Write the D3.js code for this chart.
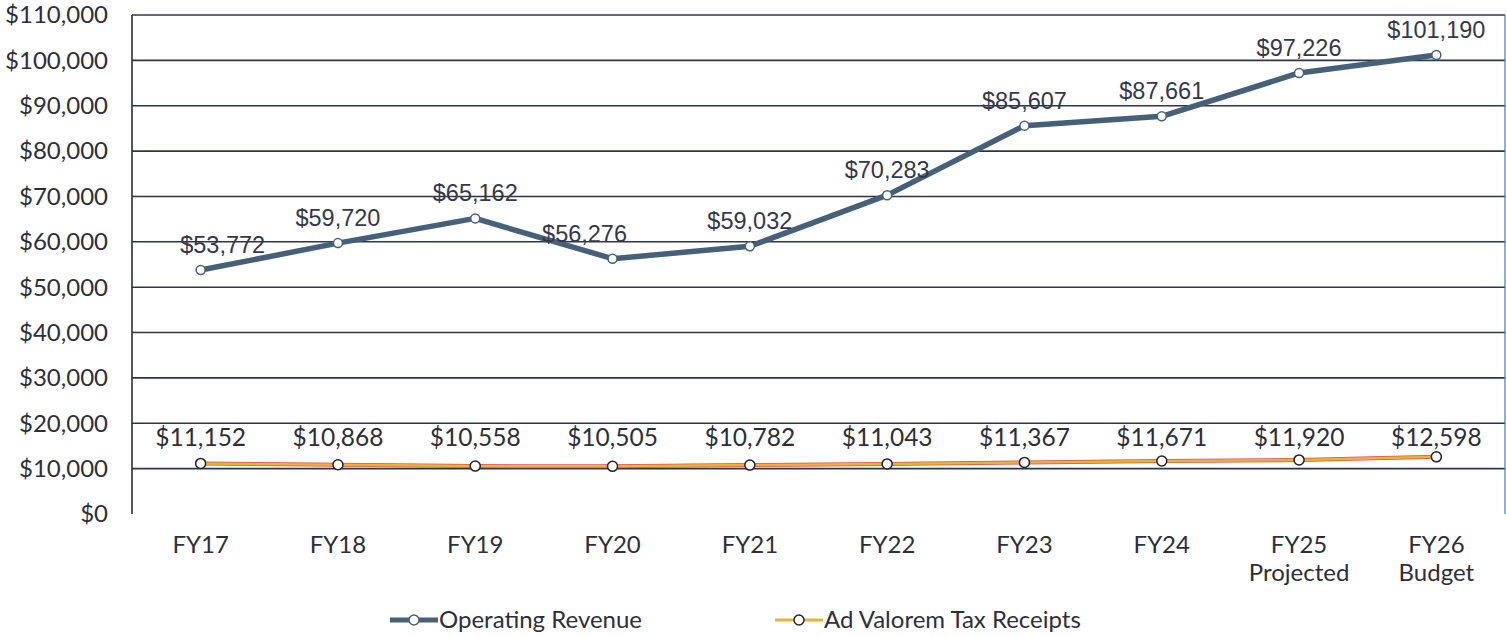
<!DOCTYPE html>
<html>
<head>
<meta charset="utf-8">
<script src="https://cdn.jsdelivr.net/npm/d3@7"></script>
<style>
  body { margin: 0; background: #fff; }
  svg { display: block; }
</style>
</head>
<body>
<div id="chart"></div>
<script>
// chart data
var years = ["FY17", "FY18", "FY19", "FY20", "FY21", "FY22", "FY23", "FY24", "FY25\nProjected", "FY26\nBudget"];
var operatingRevenue = [53772, 59720, 65162, 56276, 59032, 70283, 85607, 87661, 97226, 101190];
var adValorem = [11152, 10868, 10558, 10505, 10782, 11043, 11367, 11671, 11920, 12598];
var yTicks = [0, 10000, 20000, 30000, 40000, 50000, 60000, 70000, 80000, 90000, 100000, 110000];

var W = 1506, H = 637;
var margin = {top: 15, right: 1, bottom: 123, left: 132};
var width = W - margin.left - margin.right,
    height = H - margin.top - margin.bottom;

var svg = d3.select("#chart")
  .append("svg")
    .attr("width", W)
    .attr("height", H);

var g = svg.append("g")
  .attr("transform", "translate(" + margin.left + "," + margin.top + ")");

var x = d3.scaleBand()
  .domain(years)
  .range([0, width]);

var y = d3.scaleLinear()
  .domain([0, 110000])
  .range([height, 0]);

var fmt = d3.format("$,");
var axisFont = "Lato, 'Open Sans', sans-serif";
var textColor = "#2c2f3a";
var opColor = "#46607a";

// gridlines
g.selectAll(".grid")
  .data(yTicks.filter(function(d) { return d > 0; }))
  .enter()
  .append("line")
    .attr("x1", 0)
    .attr("x2", width)
    .attr("y1", function(d) { return y(d); })
    .attr("y2", function(d) { return y(d); })
    .attr("stroke", "#2b3448")
    .attr("stroke-width", 1.6);

// left axis line + right border
g.append("line")
  .attr("x1", 0).attr("x2", 0)
  .attr("y1", 0).attr("y2", height)
  .attr("stroke", "#2b2f3a")
  .attr("stroke-width", 1.6);
g.append("line")
  .attr("x1", width).attr("x2", width)
  .attr("y1", 0).attr("y2", height)
  .attr("stroke", "#3f7fb0")
  .attr("stroke-width", 1.2);

// y tick labels
g.selectAll(".ylab")
  .data(yTicks)
  .enter()
  .append("text")
    .attr("x", -24)
    .attr("y", function(d) { return y(d); })
    .attr("dy", "0.35em")
    .attr("text-anchor", "end")
    .style("font-family", axisFont)
    .style("font-size", "24px")
    .attr("fill", textColor)
    .text(function(d) { return fmt(d); });

// x labels
var xl = g.selectAll(".xlab")
  .data(years)
  .enter()
  .append("text")
    .attr("text-anchor", "middle")
    .style("font-family", axisFont)
    .style("font-size", "24px")
    .attr("fill", textColor)
    .attr("transform", function(d) {
      return "translate(" + (x(d) + x.bandwidth() / 2) + "," + (height + 39) + ")";
    });
xl.selectAll("tspan")
  .data(function(d) { return d.split("\n"); })
  .enter()
  .append("tspan")
    .attr("x", 0)
    .attr("dy", function(d, i) { return i === 0 ? 0 : "1.17em"; })
    .text(function(d) { return d; });

var cx = function(d, i) { return x(years[i]) + x.bandwidth() / 2; };

var line = d3.line()
  .x(function(d, i) { return cx(d, i); })
  .y(function(d) { return y(d); });

// ad valorem line (orange with reddish edge)
g.append("path")
  .datum(adValorem)
  .attr("fill", "none")
  .attr("stroke", "#d9534a")
  .attr("stroke-width", 4)
  .attr("d", line);
g.append("path")
  .datum(adValorem)
  .attr("fill", "none")
  .attr("stroke", "#e9b23c")
  .attr("stroke-width", 2.5)
  .attr("d", line);

// operating revenue line
g.append("path")
  .datum(operatingRevenue)
  .attr("fill", "none")
  .attr("stroke", opColor)
  .attr("stroke-width", 5.5)
  .attr("stroke-linejoin", "round")
  .attr("d", line);

// markers
g.selectAll(".opdot")
  .data(operatingRevenue)
  .enter()
  .append("circle")
    .attr("cx", cx)
    .attr("cy", function(d) { return y(d); })
    .attr("r", 4.5)
    .attr("fill", "white")
    .attr("stroke", opColor)
    .attr("stroke-width", 1.5);

g.selectAll(".avdot")
  .data(adValorem)
  .enter()
  .append("circle")
    .attr("cx", cx)
    .attr("cy", function(d) { return y(d); })
    .attr("r", 5)
    .attr("fill", "white")
    .attr("stroke", "#222")
    .attr("stroke-width", 1.5);

// data labels
var nudge = {"FY17": 22, "FY20": -28};
g.selectAll(".oplab")
  .data(operatingRevenue)
  .enter()
  .append("text")
    .attr("x", function(d, i) { return cx(d, i) + (nudge[years[i]] || 0); })
    .attr("y", function(d) { return y(d) - 17; })
    .attr("text-anchor", "middle")
    .style("font-family", "'Liberation Sans', Arial, sans-serif")
    .style("font-size", "23.5px")
    .attr("fill", "#34384a")
    .text(function(d) { return fmt(d); });

g.selectAll(".avlab")
  .data(adValorem)
  .enter()
  .append("text")
    .attr("x", cx)
    .attr("y", y(15000))
    .attr("text-anchor", "middle")
    .style("font-family", axisFont)
    .style("font-size", "24.5px")
    .attr("fill", textColor)
    .text(function(d) { return fmt(d); });

// legend
var legend = [
  {name: "Operating Revenue", x: 390, stroke: opColor, sw: 5},
  {name: "Ad Valorem Tax Receipts", x: 775, stroke: "#e9b23c", sw: 3}
];
var lg = svg.selectAll(".legend")
  .data(legend)
  .enter()
  .append("g")
    .attr("transform", function(d) { return "translate(" + d.x + ",620)"; });
lg.append("line")
  .attr("x1", 0).attr("x2", 48)
  .attr("y1", 0).attr("y2", 0)
  .attr("stroke", function(d) { return d.stroke; })
  .attr("stroke-width", function(d) { return d.sw; });
lg.append("circle")
  .attr("cx", 24).attr("cy", 0).attr("r", 5)
  .attr("fill", "white")
  .attr("stroke", function(d, i) { return i === 0 ? opColor : "#222"; })
  .attr("stroke-width", 1.5);
lg.append("text")
  .attr("x", 49)
  .attr("dy", "0.35em")
  .style("font-family", axisFont)
  .style("font-size", "24px")
  .attr("fill", textColor)
  .text(function(d) { return d.name; });
</script>
</body>
</html>
